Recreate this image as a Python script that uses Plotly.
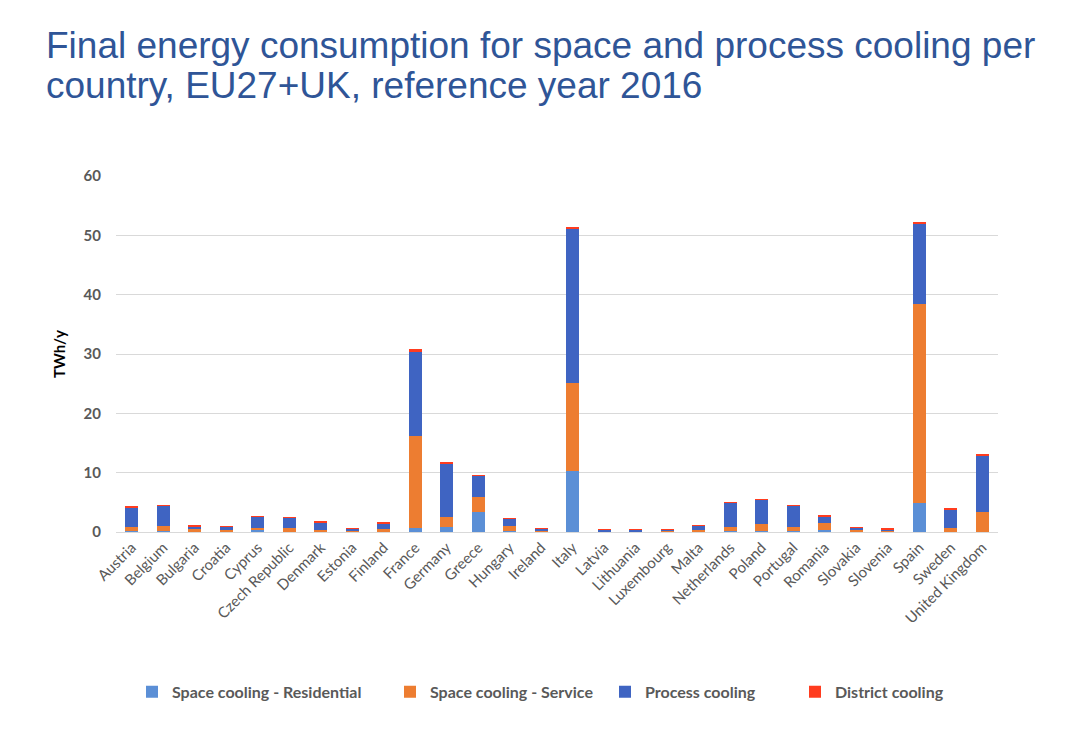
import plotly.graph_objects as go

countries = ["Austria", "Belgium", "Bulgaria", "Croatia", "Cyprus", "Czech Republic", "Denmark",
             "Estonia", "Finland", "France", "Germany", "Greece", "Hungary", "Ireland", "Italy",
             "Latvia", "Lithuania", "Luxembourg", "Malta", "Netherlands", "Poland", "Portugal",
             "Romania", "Slovakia", "Slovenia", "Spain", "Sweden", "United Kingdom"]

residential = [0.10, 0.10, 0.05, 0.05, 0.30, 0.05, 0.05, 0.02, 0.05, 0.75, 0.85, 3.45, 0.10, 0.02,
               10.35, 0.02, 0.02, 0.02, 0.10, 0.10, 0.10, 0.20, 0.30, 0.05, 0.05, 4.85, 0.05, 0.05]
service = [0.70, 0.85, 0.40, 0.35, 0.40, 0.65, 0.30, 0.25, 0.40, 15.45, 1.60, 2.50, 0.90, 0.10,
           14.80, 0.10, 0.10, 0.30, 0.25, 0.80, 1.30, 0.70, 1.15, 0.25, 0.25, 33.55, 0.55, 3.30]
process = [3.40, 3.50, 0.55, 0.55, 1.85, 1.75, 1.30, 0.25, 1.05, 14.30, 9.15, 3.50, 1.20, 0.42,
           26.05, 0.30, 0.30, 0.05, 0.80, 4.05, 4.05, 3.50, 1.20, 0.45, 0.15, 13.60, 3.25, 9.55]
district = [0.10, 0.10, 0.05, 0.05, 0.02, 0.07, 0.05, 0.05, 0.07, 0.30, 0.15, 0.02, 0.10, 0.02,
            0.25, 0.03, 0.03, 0.08, 0.02, 0.10, 0.10, 0.10, 0.05, 0.03, 0.10, 0.20, 0.08, 0.15]

title_lines = ["Final energy consumption for space and process cooling per",
               "country, EU27+UK, reference year 2016"]

series = [
    ("Space cooling - Residential", residential, "#5B8FD6"),
    ("Space cooling - Service", service, "#ED7D31"),
    ("Process cooling", process, "#3F64C2"),
    ("District cooling", district, "#FF3C1F"),
]
legend_ids = ["legend", "legend2", "legend3", "legend4"]
legend_left_px = [132, 390, 605, 795]

gray = "#595959"
fig = go.Figure()
for (name, vals, col), lid in zip(series, legend_ids):
    fig.add_trace(go.Bar(x=countries, y=vals, name=name, legend=lid, showlegend=True,
                         marker=dict(color=col, line=dict(width=0))))

for i, line in enumerate(title_lines):
    fig.add_annotation(
        text=line, xref="paper", yref="paper", showarrow=False,
        x=-72/882, xanchor="left", y=1 + (176 - 46 - 40*i)/356, yanchor="middle",
        font=dict(family="Liberation Sans, Arial, sans-serif", size=37, color="#2F5597"),
    )

legend_layout = {}
for lid, px in zip(legend_ids, legend_left_px):
    legend_layout[lid] = dict(
        orientation="h", x=(px - 116)/882, xanchor="left", y=-0.449, yanchor="middle",
        bgcolor="rgba(0,0,0,0)",
        font=dict(family="Lato, sans-serif", size=16, color=gray, weight="bold"),
    )

fig.update_layout(
    width=1075, height=755,
    showlegend=True,
    barmode="stack", bargap=0.6,
    paper_bgcolor="white", plot_bgcolor="white",
    margin=dict(l=116, r=77, t=176, b=223),
    font=dict(family="Lato, Liberation Sans, sans-serif", color=gray),
    yaxis=dict(
        range=[0, 60], dtick=10, showgrid=True, gridcolor="#D9D9D9", gridwidth=1,
        zeroline=False, showline=False, ticks="",
        tickfont=dict(family="Lato, sans-serif", size=15, color=gray, weight="bold"),
        ticklabelstandoff=14,
        title=dict(text="<b>TWh/y</b>", font=dict(family="Lato, sans-serif", size=15, color="black"),
                   standoff=14),
    ),
    xaxis=dict(
        showline=True, linecolor="#D9D9D9", linewidth=1, ticks="",
        tickangle=-45, tickfont=dict(family="Lato, sans-serif", size=15, color=gray),
    ),
    **legend_layout,
)

fig.write_html("out.html")
